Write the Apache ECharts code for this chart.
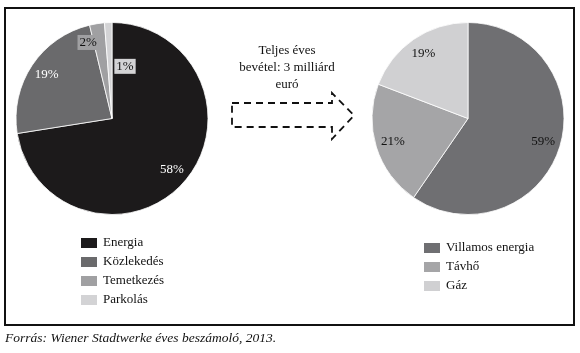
<!DOCTYPE html>
<html>
<head>
<meta charset="utf-8">
<script src="https://cdn.jsdelivr.net/npm/echarts@6/dist/echarts.min.js"></script>
<style>
  html, body { margin: 0; padding: 0; background: #fff; }
  #chart { width: 580px; height: 353px; }
</style>
</head>
<body>
<div id="chart"></div>
<script>
// bevétel megoszlása (bal) és az energia ágazaton belül (jobb)
const leftNames = ['Energia', 'Közlekedés', 'Temetkezés', 'Parkolás']
const leftValues = [58, 19, 2, 1]
const leftColors = ['#1c1a1b', '#6a6a6c', '#a0a0a2', '#d3d3d5']

const rightNames = ['Villamos energia', 'Távhő', 'Gáz']
const rightValues = [59, 21, 19]
const rightColors = ['#6f6f72', '#a5a5a7', '#d0d0d2']

const noteLines = ['Teljes éves', 'bevétel: 3 milliárd', 'euró']
const sourceText = 'Forrás: Wiener Stadtwerke éves beszámoló, 2013.'

const serif = '"Liberation Serif", "DejaVu Serif", serif'
const R = 96
const leftCenter = [112, 118.5]
const rightCenter = [468, 118.5]

const chart = echarts.init(document.getElementById('chart'), null, { renderer: 'canvas' })

// a címkék a sugár ~82%-ánál ülnek; a két kis szelet címkéje kézzel eltolva
const labelPlace = (center, overrides) => params => {
  const r = params.labelRect
  const lx = r.x + r.width / 2
  const ly = r.y + r.height / 2
  let ang = Math.atan2(lx - center[0], -(ly - center[1]))
  let frac = 0.82
  const o = overrides[params.dataIndex]
  if (o) {
    ang = o.angle * Math.PI / 180
    frac = o.frac
  }
  return {
    x: center[0] + Math.sin(ang) * frac * R,
    y: center[1] - Math.cos(ang) * frac * R
  }
}

const pieLabel = color => ({
  show: true,
  position: 'inside',
  formatter: '{c}%',
  fontFamily: serif,
  fontSize: 13,
  color: color
})

const option = {
  animation: false,
  backgroundColor: '#fff',
  legend: [
    {
      data: leftNames,
      orient: 'vertical',
      left: 79,
      top: 236,
      padding: 0,
      itemWidth: 18,
      itemHeight: 12,
      itemGap: 5,
      icon: 'rect',
      selectedMode: false,
      textStyle: { fontFamily: serif, fontSize: 13, color: '#111' }
    },
    {
      data: rightNames,
      orient: 'vertical',
      left: 422,
      top: 241,
      padding: 0,
      itemWidth: 18,
      itemHeight: 12,
      itemGap: 5,
      icon: 'rect',
      selectedMode: false,
      textStyle: { fontFamily: serif, fontSize: 13, color: '#111' }
    }
  ],
  graphic: [
    {
      type: 'rect',
      shape: { x: 5, y: 8, width: 569, height: 317 },
      style: { fill: 'none', stroke: '#111', lineWidth: 2 },
      silent: true
    },
    {
      type: 'polygon',
      shape: {
        points: [[232, 103], [332, 103], [332, 93], [354, 115.5],
          [332, 139], [332, 127], [232, 127]]
      },
      style: { fill: 'none', stroke: '#111', lineWidth: 1.8, lineDash: [7, 5] },
      silent: true
    },
    {
      type: 'text',
      x: 287,
      y: 68,
      style: {
        text: noteLines.join('\n'),
        font: '13px ' + serif,
        fill: '#111',
        align: 'center',
        verticalAlign: 'middle',
        lineHeight: 17
      }
    },
    {
      type: 'text',
      x: 5,
      y: 338,
      style: {
        text: sourceText,
        font: 'italic 13.5px ' + serif,
        fill: '#111',
        align: 'left',
        verticalAlign: 'middle'
      }
    }
  ],
  series: [
    {
      type: 'pie',
      center: leftCenter,
      radius: [0, R],
      startAngle: 90,
      clockwise: true,
      itemStyle: { borderColor: '#fff', borderWidth: 0.8 },
      labelLine: { show: false },
      labelLayout: labelPlace(leftCenter, {
        2: { angle: 342.6, frac: 0.83 },
        3: { angle: 14, frac: 0.56 }
      }),
      data: leftNames.map((name, i) => ({
        name,
        value: leftValues[i],
        itemStyle: { color: leftColors[i] },
        label: i < 2
          ? pieLabel('#fff')
          : Object.assign(pieLabel('#111'), {
              backgroundColor: leftColors[i],
              padding: [1, 2]
            })
      }))
    },
    {
      type: 'pie',
      center: rightCenter,
      radius: [0, R],
      startAngle: 90,
      clockwise: true,
      itemStyle: { borderColor: '#fff', borderWidth: 0.8 },
      labelLine: { show: false },
      labelLayout: labelPlace(rightCenter, {}),
      data: rightNames.map((name, i) => ({
        name,
        value: rightValues[i],
        itemStyle: { color: rightColors[i] },
        label: pieLabel('#111')
      }))
    }
  ]
}

chart.setOption(option)
window.addEventListener('resize', () => chart.resize())
</script>
</body>
</html>
